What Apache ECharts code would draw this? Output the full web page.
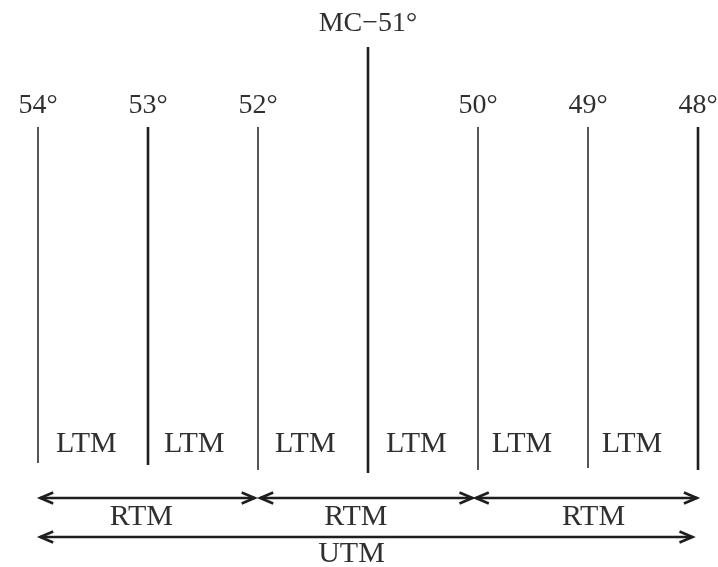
<!DOCTYPE html>
<html>
<head>
<meta charset="utf-8">
<script src="https://cdn.jsdelivr.net/npm/echarts@6/dist/echarts.min.js"></script>
<style>
html,body{margin:0;padding:0;background:#fff;}
#chart{width:718px;height:567px;}
</style>
</head>
<body>
<div id="chart"></div>
<script>
// Meridians (degrees of longitude) and their drawn extent (diagram units)
const meridians = [54, 53, 52, 51, 50, 49, 48];
const meridianLabels = ['54°', '53°', '52°', 'MC−51°', '50°', '49°', '48°'];
const meridianTop = [127, 127, 127, 47, 127, 127, 127];
const meridianBottom = [463, 465, 470, 473, 470, 468, 470];
const thickMeridians = [53, 51, 48];

// LTM zone labels
const ltmLabels = ['LTM', 'LTM', 'LTM', 'LTM', 'LTM', 'LTM'];
const ltmLabelX = [53.56, 52.58, 51.57, 50.56, 49.6, 48.6];

// RTM spans (double arrows)
const rtmFrom = [53.98, 51.98, 50.02];
const rtmTo = [52.03, 50.05, 48.01];
const rtmLabels = ['RTM', 'RTM', 'RTM'];
const rtmLabelX = [53.06, 51.11, 48.95];

// UTM span
const utmFrom = [53.98];
const utmTo = [48.05];
const utmLabels = ['UTM'];
const utmLabelX = [51.15];

// vertical levels (diagram units)
const yMeridianLabel = 106, yMcLabel = 24, yLtm = 444, yRtm = 498, yRtmLabel = 517, yUtm = 537, yUtmLabel = 554;

const FONT = '"Liberation Serif", "DejaVu Serif", serif';
const INK = '#1e1e1e';
const TEXT = '#303030';

const chart = echarts.init(document.getElementById('chart'));

function arrowItem(params, api) {
  const y = api.value(2);
  const a = api.coord([api.value(0), y]);
  const b = api.coord([api.value(1), y]);
  const dir = b[0] > a[0] ? 1 : -1;
  const L = 13, W = 5.5;
  return {
    type: 'group',
    children: [
      { type: 'line', shape: { x1: a[0], y1: a[1], x2: b[0], y2: b[1] }, style: { stroke: INK, lineWidth: 2.4 } },
      { type: 'polyline', shape: { points: [[a[0] + dir * L, a[1] - W], [a[0], a[1]], [a[0] + dir * L, a[1] + W]] }, style: { stroke: INK, lineWidth: 2.6, fill: null } },
      { type: 'polyline', shape: { points: [[b[0] - dir * L, b[1] - W], [b[0], b[1]], [b[0] - dir * L, b[1] + W]] }, style: { stroke: INK, lineWidth: 2.6, fill: null } }
    ]
  };
}

function textItem(size) {
  return function (params, api) {
    const p = api.coord([api.value(0), api.value(1)]);
    return {
      type: 'text',
      x: p[0], y: p[1],
      style: { text: api.value(2), fill: TEXT, font: size + 'px ' + FONT, align: 'center', verticalAlign: 'middle' }
    };
  };
}

const option = {
  animation: false,
  backgroundColor: '#ffffff',
  grid: { left: 38, right: 20, top: 0, bottom: 0 },
  xAxis: { type: 'value', min: 48, max: 54, inverse: true, show: false },
  yAxis: { type: 'value', min: 0, max: 567, inverse: true, show: false },
  series: [
    {
      type: 'custom',
      clip: false,
      data: meridians.map((m, i) => [m, meridianTop[i], meridianBottom[i]]),
      renderItem: function (params, api) {
        const deg = api.value(0);
        const a = api.coord([deg, api.value(1)]);
        const b = api.coord([deg, api.value(2)]);
        const w = thickMeridians.indexOf(deg) >= 0 ? 2.6 : 1.5;
        return { type: 'line', shape: { x1: a[0], y1: a[1], x2: b[0], y2: b[1] }, style: { stroke: INK, lineWidth: w } };
      }
    },
    {
      type: 'custom',
      clip: false,
      data: meridians.map((m, i) => [m, m === 51 ? yMcLabel : yMeridianLabel, meridianLabels[i]]),
      renderItem: textItem(28)
    },
    {
      type: 'custom',
      clip: false,
      data: ltmLabelX.map((x, i) => [x, yLtm, ltmLabels[i]]),
      renderItem: textItem(30)
    },
    {
      type: 'custom',
      clip: false,
      data: rtmFrom.map((f, i) => [f, rtmTo[i], yRtm]),
      renderItem: arrowItem
    },
    {
      type: 'custom',
      clip: false,
      data: rtmLabelX.map((x, i) => [x, yRtmLabel, rtmLabels[i]]),
      renderItem: textItem(30)
    },
    {
      type: 'custom',
      clip: false,
      data: utmFrom.map((f, i) => [f, utmTo[i], yUtm]),
      renderItem: arrowItem
    },
    {
      type: 'custom',
      clip: false,
      data: utmLabelX.map((x, i) => [x, yUtmLabel, utmLabels[i]]),
      renderItem: textItem(30)
    }
  ]
};
chart.setOption(option);
</script>
</body>
</html>
